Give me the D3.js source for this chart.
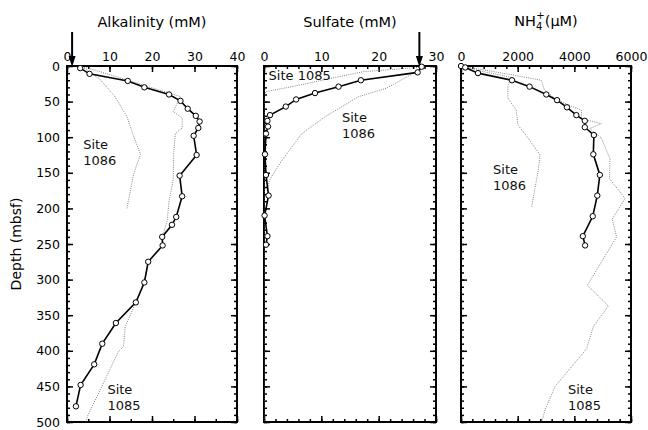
<!DOCTYPE html>
<html lang="en">
<head>
<meta charset="UTF-8">
<title>Pore water profiles</title>
<script src="https://d3js.org/d3.v7.min.js"></script>
<style>
  body { margin: 0; background: #fff; }
  svg { display: block; font-family: "DejaVu Sans", sans-serif; }
</style>
</head>
<body>
<svg id="svg" width="648" height="430"></svg>
<script>
// depth axis (mbsf)
var depthTicks = [0, 50, 100, 150, 200, 250, 300, 350, 400, 450, 500];

// Alkalinity (mM)
var alkTicks = [0, 10, 20, 30, 40];
var alkDepth = [3, 11, 21, 30, 40, 49, 60, 70, 78, 87, 98, 125, 154, 183, 212, 223, 240, 252, 275, 304, 332, 361, 390, 419, 448, 478];
var alkValue = [3.1, 5.3, 14.3, 18.2, 24.0, 26.7, 28.4, 30.3, 31.2, 30.9, 29.8, 30.5, 26.5, 27.1, 25.7, 24.7, 22.4, 22.5, 19.1, 18.2, 16.2, 11.5, 8.3, 6.4, 3.2, 2.1];
var alk1085Depth = [0, 8, 43, 64, 73, 87, 95, 123, 160, 190, 216, 225, 240, 252, 275, 304, 332, 366, 394, 401, 455, 492, 500];
var alk1085Value = [3.0, 7.8, 26.7, 25.0, 27.1, 27.1, 25.5, 25.1, 25.0, 24.0, 23.6, 23.2, 22.4, 22.5, 19.1, 18.2, 16.2, 13.7, 13.3, 12.1, 7.8, 4.8, 4.5];
var alk1086Depth = [3, 7, 19, 43, 71, 99, 124, 151, 200];
var alk1086Value = [4.0, 5.0, 7.8, 11.3, 14.1, 15.7, 17.3, 15.7, 14.1];
var alkSeawater = 1.2;

// Sulfate (mM)
var sulTicks = [0, 10, 20, 30];
var sulDepth = [1, 9, 20, 29, 38, 47, 57, 69, 77, 85, 95, 124, 153, 182, 210, 239, 251];
var sulValue = [27.5, 26.8, 16.9, 13.0, 8.9, 5.6, 3.8, 1.05, 0.6, 0.7, 0.35, 0.17, 0.35, 0.8, 0.1, 0.6, 0.35];
var sul1085Depth = [0, 2, 8, 17, 28, 36, 45, 500];
var sul1085Value = [27.8, 27.0, 17.3, 11.9, 5.5, 0.3, 0.1, 0.1];
var sul1086Depth = [6, 31, 43, 71, 95, 134, 160, 175];
var sul1086Value = [27.0, 21.4, 16.5, 10.7, 6.6, 3.0, 1.0, 0.5];
var sulSeawater = 27.1;

// NH4+ (uM)
var nh4Ticks = [0, 2000, 4000, 6000];
var nh4Depth = [0, 2, 10, 20, 29, 40, 48, 58, 69, 77, 86, 97, 124, 153, 182, 211, 239, 252];
var nh4Value = [0, 150, 600, 1800, 2420, 3010, 3390, 3740, 4070, 4370, 4370, 4690, 4670, 4900, 4810, 4650, 4300, 4380];
var nh41085Depth = [0, 13, 20, 34, 48, 62, 74, 81, 88, 101, 130, 158, 186, 215, 240, 308, 337, 366, 397, 450, 483, 500];
var nh41085Value = [0, 1890, 2830, 2950, 3390, 4250, 4250, 4950, 4540, 4950, 5260, 5240, 5790, 5340, 5490, 4460, 5200, 4670, 4435, 3320, 2965, 2850];
var nh41086Depth = [0, 8, 16, 27, 45, 62, 83, 101, 125, 146, 172, 199];
var nh41086Value = [0, 800, 1780, 1660, 1650, 1950, 2010, 2365, 2790, 2730, 2610, 2490];

function zip(depth, value) {
  return depth.map(function (d, i) { return { d: d, v: value[i] }; });
}

var svg = d3.select("#svg"),
  top0 = 66, bottom0 = 422;

var y = d3.scaleLinear().domain([0, 500]).range([top0, bottom0]);

var panels = [
  { title: "Alkalinity (mM)", domain: [0, 40], ticks: alkTicks, minor: 5, left: 67, right: 237,
    main: zip(alkDepth, alkValue), s1085: zip(alk1085Depth, alk1085Value), s1086: zip(alk1086Depth, alk1086Value),
    arrow: alkSeawater,
    labels: [{ v: 3.8, d: 116, text: ["Site", "1086"] }, { v: 9.5, d: 461, text: ["Site", "1085"] }] },
  { title: "Sulfate (mM)", domain: [0, 30], ticks: sulTicks, minor: 2, left: 264, right: 436,
    main: zip(sulDepth, sulValue), s1085: zip(sul1085Depth, sul1085Value), s1086: zip(sul1086Depth, sul1086Value),
    arrow: sulSeawater,
    labels: [{ v: 0.8, d: 19.5, text: ["Site 1085"] }, { v: 13.6, d: 78.5, text: ["Site", "1086"] }] },
  { title: null, domain: [0, 6000], ticks: nh4Ticks, minor: 400, left: 461, right: 631,
    main: zip(nh4Depth, nh4Value), s1085: zip(nh41085Depth, nh41085Value), s1086: zip(nh41086Depth, nh41086Value),
    arrow: null,
    labels: [{ v: 1130, d: 151.5, text: ["Site", "1086"] }, { v: 3777, d: 460.5, text: ["Site", "1085"] }] }
];

panels.forEach(function (p, pi) {
  var x = d3.scaleLinear().domain(p.domain).range([p.left, p.right]);
  var minorTicks = d3.range(p.domain[0], p.domain[1] + p.minor / 2, p.minor);
  var minorDepth = d3.range(0, 501, 10);
  var g = svg.append("g");

  // axes: ticks point inward
  g.append("g").attr("transform", "translate(0," + top0 + ")")
    .call(d3.axisTop(x).tickValues(minorTicks).tickSize(-3).tickFormat(""));
  g.append("g").attr("transform", "translate(0," + top0 + ")")
    .call(d3.axisTop(x).tickValues(p.ticks).tickSize(-6).tickPadding(5).tickFormat(d3.format("d")));
  g.append("g").attr("transform", "translate(0," + bottom0 + ")")
    .call(d3.axisBottom(x).tickValues(minorTicks).tickSize(-3).tickFormat(""));
  g.append("g").attr("transform", "translate(0," + bottom0 + ")")
    .call(d3.axisBottom(x).tickValues(p.ticks).tickSize(-6).tickFormat(""));
  g.append("g").attr("transform", "translate(" + p.left + ",0)")
    .call(d3.axisLeft(y).tickValues(minorDepth).tickSize(-3).tickFormat(""));
  g.append("g").attr("transform", "translate(" + p.left + ",0)")
    .call(d3.axisLeft(y).tickValues(depthTicks).tickSize(-6).tickPadding(7)
      .tickFormat(pi === 0 ? d3.format("d") : ""));
  g.append("g").attr("transform", "translate(" + p.right + ",0)")
    .call(d3.axisRight(y).tickValues(minorDepth).tickSize(-3).tickFormat(""));
  g.append("g").attr("transform", "translate(" + p.right + ",0)")
    .call(d3.axisRight(y).tickValues(depthTicks).tickSize(-6).tickFormat(""));

  g.selectAll(".domain").remove();
  g.selectAll(".tick line").attr("stroke", "#000").attr("stroke-width", 1.5);
  g.selectAll(".tick text").attr("fill", "#000").attr("font-size", 12.5)
    .attr("font-family", "DejaVu Sans, sans-serif");

  g.append("rect")
    .attr("x", p.left).attr("y", top0)
    .attr("width", p.right - p.left).attr("height", bottom0 - top0)
    .attr("fill", "none").attr("stroke", "#000").attr("stroke-width", 2);

  var line = d3.line().x(function (d) { return x(d.v); }).y(function (d) { return y(d.d); });

  // reference sites, thin dotted
  [p.s1085, p.s1086].forEach(function (s) {
    g.append("path").datum(s)
      .attr("d", line)
      .attr("fill", "none")
      .attr("stroke", "#555")
      .attr("stroke-width", 0.7)
      .attr("stroke-dasharray", "1,1.2");
  });

  g.append("path").datum(p.main)
    .attr("d", line)
    .attr("fill", "none")
    .attr("stroke", "#000")
    .attr("stroke-width", 1.6);

  g.selectAll("circle.pt").data(p.main).enter().append("circle")
    .attr("class", "pt")
    .attr("cx", function (d) { return x(d.v); })
    .attr("cy", function (d) { return y(d.d); })
    .attr("r", 2.7)
    .attr("fill", "#fff")
    .attr("stroke", "#000")
    .attr("stroke-width", 1);

  p.labels.forEach(function (l) {
    var t = g.append("text")
      .attr("x", x(l.v)).attr("y", y(l.d))
      .attr("font-size", 13).attr("fill", "#111");
    l.text.forEach(function (s, i) {
      t.append("tspan").attr("x", x(l.v)).attr("dy", i === 0 ? 0 : 16).text(s);
    });
  });

  if (p.arrow !== null) {
    var ax = x(p.arrow);
    g.append("line")
      .attr("x1", ax).attr("x2", ax).attr("y1", 32).attr("y2", 60)
      .attr("stroke", "#000").attr("stroke-width", 2);
    g.append("path")
      .attr("d", "M" + (ax - 3.5) + ",56L" + ax + ",67L" + (ax + 3.5) + ",56Z")
      .attr("fill", "#000");
  }

  var cx = (p.left + p.right) / 2;
  if (p.title) {
    g.append("text").attr("x", cx).attr("y", 27)
      .attr("text-anchor", "middle").attr("font-size", 14.5)
      .text(p.title);
  } else {
    var tt = g.append("text").attr("x", cx).attr("y", 26)
      .attr("text-anchor", "middle").attr("font-size", 14.5);
    tt.append("tspan").text("NH");
    tt.append("tspan").attr("dy", 4).attr("font-size", 10).text("4");
    tt.append("tspan").attr("dx", -6).attr("dy", -11).attr("font-size", 10).text("+");
    tt.append("tspan").attr("dy", 7).text("(\u00b5M)");
  }
});

svg.append("text")
  .attr("transform", "translate(21," + ((top0 + bottom0) / 2) + ")rotate(-90)")
  .attr("text-anchor", "middle")
  .attr("font-size", 14)
  .text("Depth (mbsf)");
</script>
</body>
</html>
